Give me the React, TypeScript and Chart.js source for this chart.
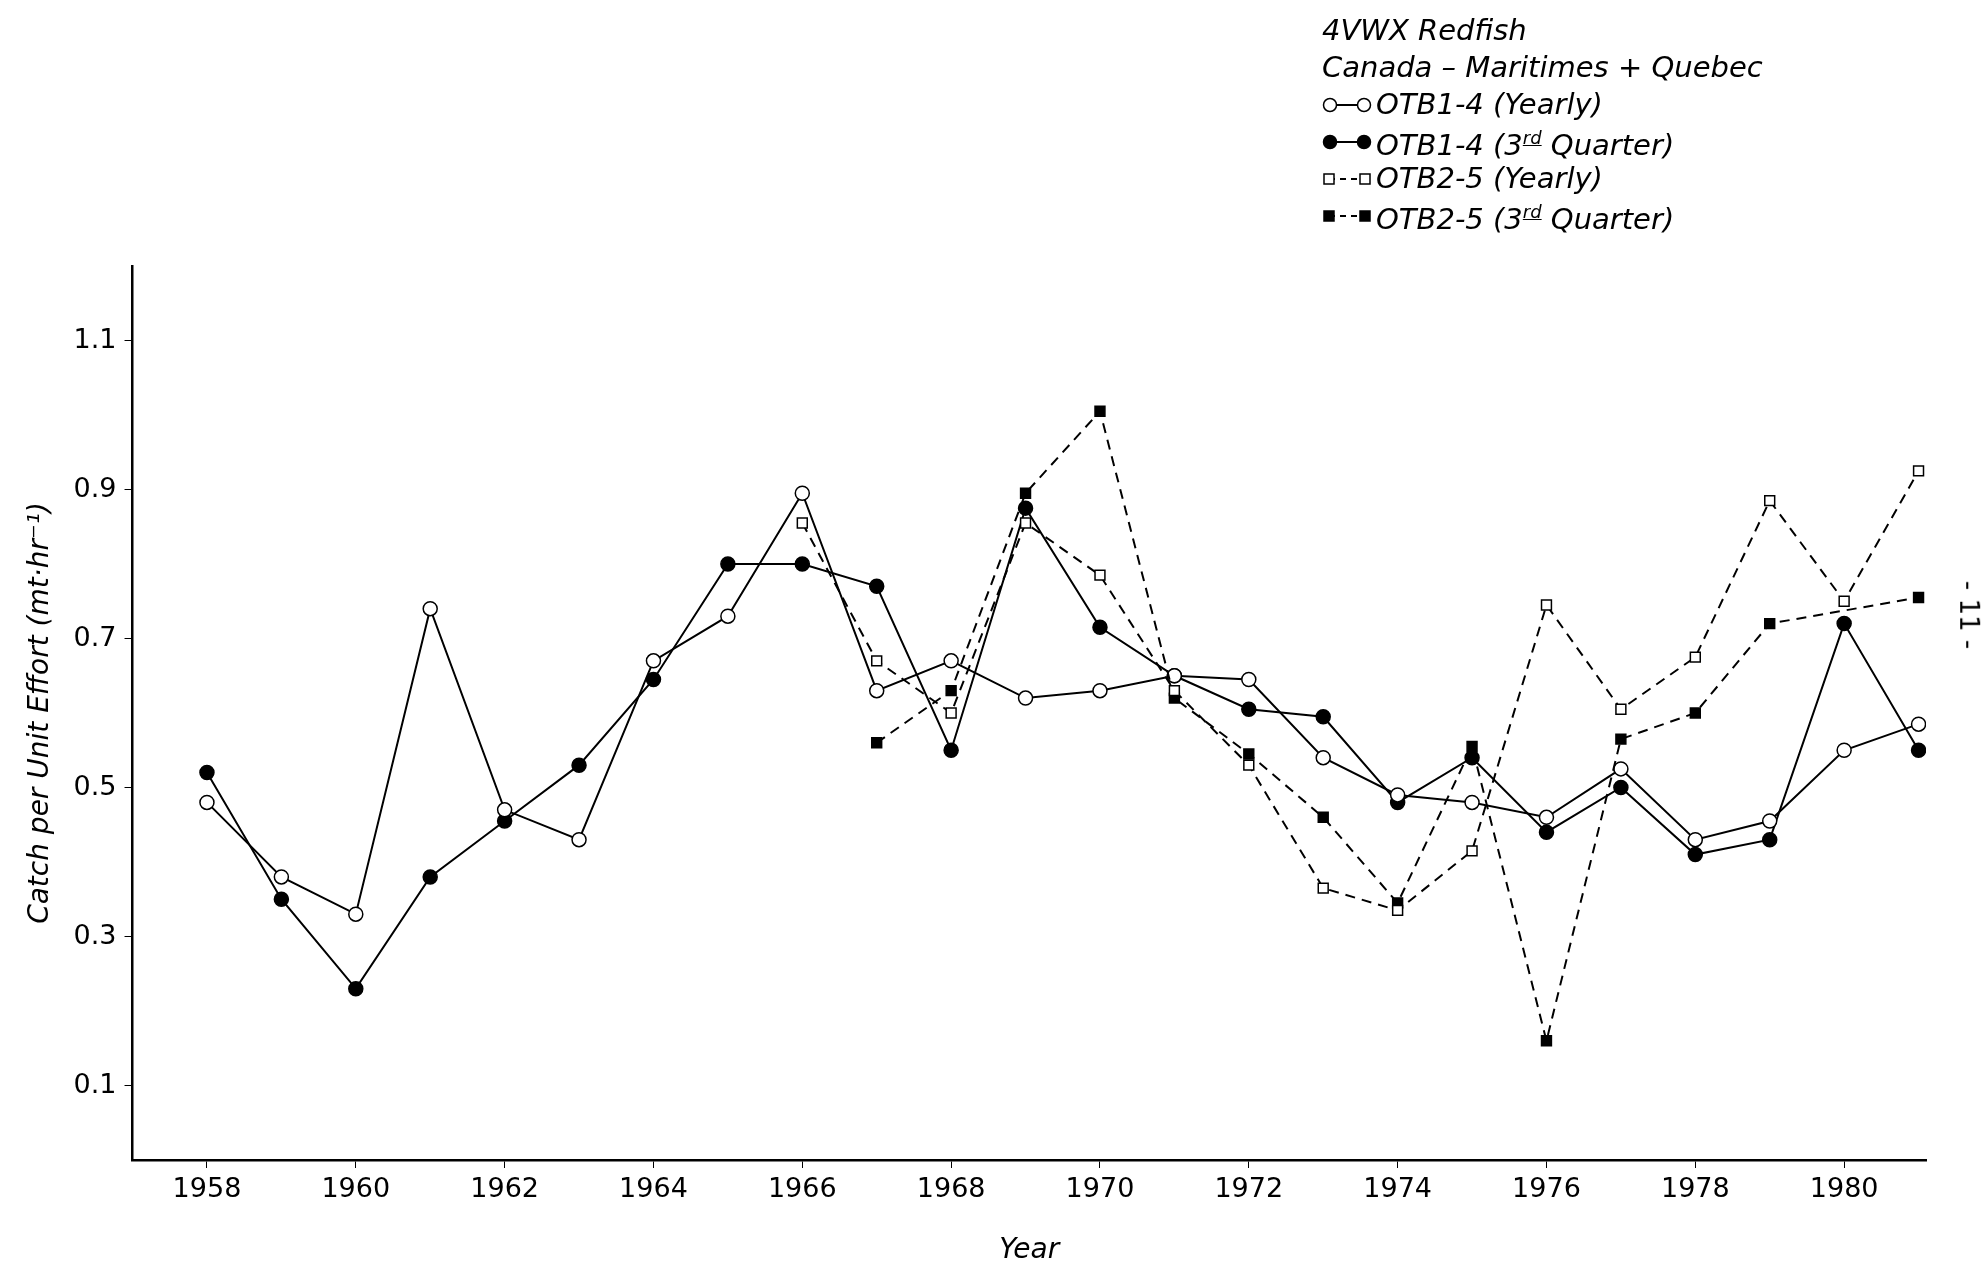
import { useEffect, useRef } from "react";
import { Chart, registerables } from "chart.js";

Chart.register(...registerables);

const YEARS = [1958, 1959, 1960, 1961, 1962, 1963, 1964, 1965, 1966, 1967, 1968, 1969, 1970, 1971, 1972, 1973, 1974, 1975, 1976, 1977, 1978, 1979, 1980, 1981];
const X_TICKS = [1958, 1960, 1962, 1964, 1966, 1968, 1970, 1972, 1974, 1976, 1978, 1980];
const Y_TICKS = [0.1, 0.3, 0.5, 0.7, 0.9, 1.1];

const otb14Yearly = [0.48, 0.38, 0.33, 0.74, 0.47, 0.43, 0.67, 0.73, 0.895, 0.63, 0.67, 0.62, 0.63, 0.65, 0.645, 0.54, 0.49, 0.48, 0.46, 0.525, 0.43, 0.455, 0.55, 0.585];
const otb14Q3 = [0.52, 0.35, 0.23, 0.38, 0.455, 0.53, 0.645, 0.8, 0.8, 0.77, 0.55, 0.875, 0.715, 0.65, 0.605, 0.595, 0.48, 0.54, 0.44, 0.5, 0.41, 0.43, 0.72, 0.55];
const otb25Yearly = [null, null, null, null, null, null, null, null, 0.855, 0.67, 0.6, 0.855, 0.785, 0.63, 0.53, 0.365, 0.335, 0.415, 0.745, 0.605, 0.675, 0.885, 0.75, 0.925];
const otb25Q3 = [null, null, null, null, null, null, null, null, null, 0.56, 0.63, 0.895, 1.005, 0.62, 0.545, 0.46, 0.345, 0.555, 0.16, 0.565, 0.6, 0.72, null, 0.755];

const FONT = "'DejaVu Sans', sans-serif";

const pts = (arr: (number | null)[]) => YEARS.map((x, i) => ({ x, y: arr[i] }));

export default function App() {
  const canvasRef = useRef<HTMLCanvasElement | null>(null);

  useEffect(() => {
    const ds = (label: string, data: (number | null)[], style: string, fill: boolean, dashed: boolean) => ({
      label,
      data: pts(data),
      borderColor: "#000",
      borderWidth: 2,
      borderDash: dashed ? [10, 7] : [],
      pointStyle: style,
      pointRadius: 7,
      pointBorderWidth: 1.5,
      pointBorderColor: "#000",
      pointBackgroundColor: fill ? "#000" : "#fff",
      spanGaps: true,
      tension: 0,
    });
    const chart = new Chart(canvasRef.current!, {
      type: "line",
      data: {
        datasets: [
          ds("OTB2-5 (Yearly)", otb25Yearly, "rect", false, true),
          ds("OTB2-5 (3rd Quarter)", otb25Q3, "rect", true, true),
          ds("OTB1-4 (Yearly)", otb14Yearly, "circle", false, false),
          ds("OTB1-4 (3rd Quarter)", otb14Q3, "circle", true, false),
        ] as any,
      },
      options: {
        animation: false,
        responsive: false,
        layout: { padding: { left: 20, top: 266, right: 62, bottom: 2 } },
        plugins: { legend: { display: false }, tooltip: { enabled: false } },
        scales: {
          x: {
            type: "linear",
            min: 1957,
            max: 1981.1,
            afterBuildTicks: (a: any) => { a.ticks = X_TICKS.map((v) => ({ value: v })); },
            grid: { drawOnChartArea: false, color: "#000", tickLength: 8 },
            border: { color: "#000", width: 2.5 },
            ticks: { color: "#000", font: { family: FONT, size: 27 }, padding: 6, maxRotation: 0, callback: (v: any) => String(v) },
            title: { display: true, text: "Year", color: "#000", font: { family: FONT, size: 28, style: "italic" }, padding: { top: 22 } },
          },
          y: {
            min: 0,
            max: 1.2,
            afterBuildTicks: (a: any) => { a.ticks = Y_TICKS.map((v) => ({ value: v })); },
            grid: { drawOnChartArea: false, color: "#000", tickLength: 8 },
            border: { color: "#000", width: 2.5 },
            ticks: { color: "#000", font: { family: FONT, size: 27 }, padding: 8, callback: (v: any) => Number(v).toFixed(1) },
            title: { display: true, text: "Catch per Unit Effort (mt·hr⁻¹)", color: "#000", font: { family: FONT, size: 28, style: "italic" }, padding: { bottom: 8 } },
          },
        },
      },
    });
    return () => chart.destroy();
  }, []);

  const legendRow = (fill: boolean, square: boolean, dashed: boolean, text: any) => (
    <div style={{ display: "flex", alignItems: "center", height: 37 }}>
      <svg width="50" height="20" style={{ marginRight: 4 }}>
        <line x1="7" y1="10" x2="43" y2="10" stroke="#000" strokeWidth="2" strokeDasharray={dashed ? "6 5" : undefined} />
        {square ? (
          <>
            <rect x="2" y="5" width="10" height="10" fill={fill ? "#000" : "#fff"} stroke="#000" strokeWidth="1.5" />
            <rect x="38" y="5" width="10" height="10" fill={fill ? "#000" : "#fff"} stroke="#000" strokeWidth="1.5" />
          </>
        ) : (
          <>
            <circle cx="8" cy="10" r="6.5" fill={fill ? "#000" : "#fff"} stroke="#000" strokeWidth="1.5" />
            <circle cx="42" cy="10" r="6.5" fill={fill ? "#000" : "#fff"} stroke="#000" strokeWidth="1.5" />
          </>
        )}
      </svg>
      <span>{text}</span>
    </div>
  );

  return (
    <div style={{ position: "fixed", left: 0, top: 0, width: 1988, height: 1274, background: "#fff", fontFamily: FONT, color: "#000" }}>
      <canvas ref={canvasRef} width={1988} height={1274} />
      <div style={{ position: "absolute", left: 1322, top: 12, fontSize: 29, lineHeight: "37px", fontStyle: "italic" }}>
        <div>4VWX Redfish</div>
        <div>Canada – Maritimes + Quebec</div>
        {legendRow(false, false, false, "OTB1-4 (Yearly)")}
        {legendRow(true, false, false, <>OTB1-4 (3<sup style={{ fontSize: 18, textDecoration: "underline" }}>rd</sup> Quarter)</>)}
        {legendRow(false, true, true, "OTB2-5 (Yearly)")}
        {legendRow(true, true, true, <>OTB2-5 (3<sup style={{ fontSize: 18, textDecoration: "underline" }}>rd</sup> Quarter)</>)}
      </div>
      <div style={{ position: "absolute", left: 1935, top: 600, fontSize: 26, transform: "rotate(90deg)", whiteSpace: "pre" }}>- 11 -</div>
    </div>
  );
}
